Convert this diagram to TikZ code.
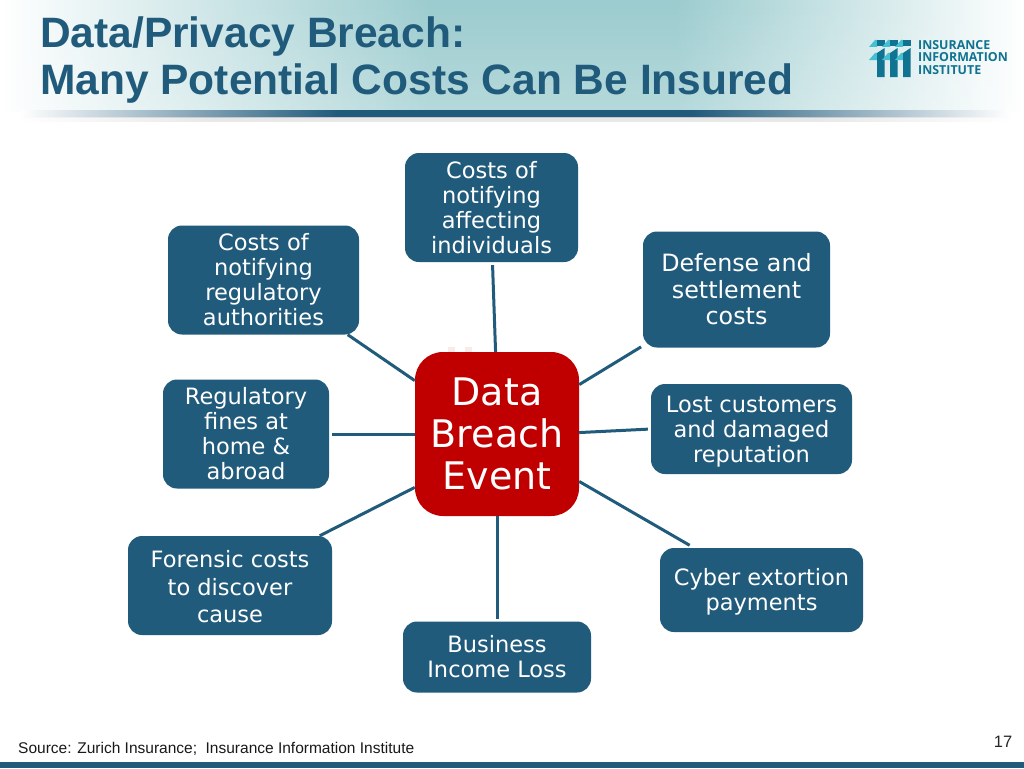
\documentclass[tikz,border=0pt]{standalone}
\usepackage{fontspec}
\setmainfont{DejaVu Sans}
\newfontfamily\arialfont{Liberation Sans}
\newfontfamily\logofont{Open Sans}
\definecolor{boxblue}{HTML}{215B7C}
\definecolor{hubred}{HTML}{C00000}
\definecolor{headteal}{HTML}{9CCCCF}
\definecolor{logoteal}{HTML}{0F7391}
\definecolor{logolight}{HTML}{45BFD2}
\pgfdeclarehorizontalshading{washfade}{100bp}{color(0bp)=(white); color(25bp)=(white); color(46bp)=(headteal); color(58bp)=(headteal); color(75bp)=(white); color(100bp)=(white)}
\pgfdeclarehorizontalshading{rulefade}{100bp}{color(0bp)=(white); color(25bp)=(white); color(41bp)=(boxblue); color(59bp)=(boxblue); color(75bp)=(white); color(100bp)=(white)}
\pgfdeclarehorizontalshading{shadowa}{100bp}{color(0bp)=(white); color(25bp)=(white); color(35bp)=(black!22); color(65bp)=(black!22); color(75bp)=(white); color(100bp)=(white)}
\pgfdeclarehorizontalshading{shadowb}{100bp}{color(0bp)=(white); color(25bp)=(white); color(35bp)=(black!9); color(65bp)=(black!9); color(75bp)=(white); color(100bp)=(white)}
\tikzset{
  cost/.style={draw=none,fill=boxblue,rounded corners=14pt,text=white,align=center,inner sep=0pt,
    font=\fontsize{22.5}{25}\selectfont},
  hubbox/.style={draw=none,fill=hubred,rounded corners=28pt,text=white,align=center,inner sep=0pt,
    minimum width=164pt,minimum height=164pt,font=\fontsize{38}{42}\selectfont},
  link/.style={draw=boxblue,line width=3pt},
  titletext/.style={anchor=base west,text=boxblue,inner sep=0pt,font=\arialfont\bfseries\fontsize{42.5}{42.5}\selectfont},
  logotext/.style={anchor=base west,text=logoteal,inner sep=0pt,font=\logofont\bfseries\fontsize{12.4}{12.4}\selectfont},
}
\begin{document}
\begin{tikzpicture}[x=1pt,y=-1pt]
\useasboundingbox (0,0) rectangle (1024,768);
\fill[white] (0,0) rectangle (1024,768);
% header wash
\shade[shading=washfade] (0,0) rectangle (1024,111);
\foreach \i in {0,...,21}{
  \pgfmathsetmacro{\op}{0.012*\i}
  \fill[white,opacity=\op] (0,{\i*5}) rectangle (1024,{\i*5+5});
}
% header rule
\shade[shading=shadowa] (15,116) rectangle (1015,118.5);
\shade[shading=shadowb] (15,118.5) rectangle (1015,121);
\shade[shading=rulefade] (20,110.5) rectangle (1010,116.5);
% title
\node[titletext] (title1) at (40,48) {Data/Privacy Breach:};
\node[titletext] (title2) at (40,94) {Many Potential Costs Can Be Insured};
% logo
\foreach \x in {877,890,903}{
  \fill[logolight] (\x-8,47) -- (\x-2,40) -- (\x,40) -- (\x,47) -- cycle;
  \fill[logoteal] (\x,40) rectangle +(7.5,6);
  \fill[logolight] (\x-8,60) -- (\x-2,53) -- (\x,53) -- (\x,60) -- cycle;
  \fill[logoteal] (\x,53) -- (\x+7.5,48) -- (\x+7.5,77) -- (\x,77) -- cycle;
}
\node[logotext] (logo1) at (918,49.5) {INSURANCE};
\node[logotext] (logo2) at (918,62) {INFORMATION};
\node[logotext] (logo3) at (918,74.5) {INSTITUTE};
% marks above the hub
\fill[hubred!8] (448,347) rectangle (455,353);
\fill[hubred!8] (465,347) rectangle (472,353);
% nodes
\node[hubbox] (hub) at (497,434) {Data\\Breach\\Event};
\node[cost,minimum width=173pt,minimum height=109pt] (top) at (491.5,207.5) {Costs of\\notifying\\affecting\\individuals};
\node[cost,minimum width=191pt,minimum height=109pt] (reg) at (263.5,280) {Costs of\\notifying\\regulatory\\authorities};
\node[cost,minimum width=187pt,minimum height=116pt,font=\fontsize{23.8}{26.5}\selectfont] (def) at (736.5,289.5) {Defense and\\settlement\\costs};
\node[cost,minimum width=166pt,minimum height=109pt] (fin) at (246,434) {Regulatory\\fines at\\home \&\\abroad};
\node[cost,minimum width=201pt,minimum height=90pt] (lost) at (751.5,429) {\rule{0pt}{22pt}Lost customers\\and damaged\\reputation};
\node[cost,minimum width=204pt,minimum height=99pt,font=\fontsize{22.5}{27.5}\selectfont] (for) at (230,585.5) {\rule{0pt}{20pt}Forensic costs\\to discover\\cause};
\node[cost,minimum width=203pt,minimum height=84pt] (cyb) at (761.5,590) {\rule{0pt}{20pt}Cyber extortion\\payments};
\node[cost,minimum width=188pt,minimum height=71pt] (bus) at (497,657) {Business\\Income Loss};
% connectors
\draw[link,shorten >=3pt] (hub.91.4) -- (top.271.6);
\draw[link] (hub.147) -- (reg.-33.2);
\draw[link,shorten >=3pt] (hub.west) -- (fin.east);
\draw[link] (hub.213.7) -- (for.29.4);
\draw[link,shorten >=2pt] (hub.south) -- (bus.north);
\draw[link,shorten >=5pt] (hub.-30.3) -- (cyb.148.8);
\draw[link,shorten >=3pt] (hub.1.4) -- (lost.180.85);
\draw[link,shorten >=2pt] (hub.31) -- (def.211);
% footer
\node[anchor=base west,inner sep=0pt,font=\arialfont\fontsize{15.5}{16}\selectfont,text=black!90] (src) at (18,753) {Source: Zurich Insurance;\ \ Insurance Information Institute};
\node[anchor=base,inner sep=0pt,font=\arialfont\fontsize{16.5}{17}\selectfont,text=black!85] (num) at (1003,747) {17};
\fill[boxblue] (0,762) rectangle (1024,768);
\end{tikzpicture}
\end{document}
